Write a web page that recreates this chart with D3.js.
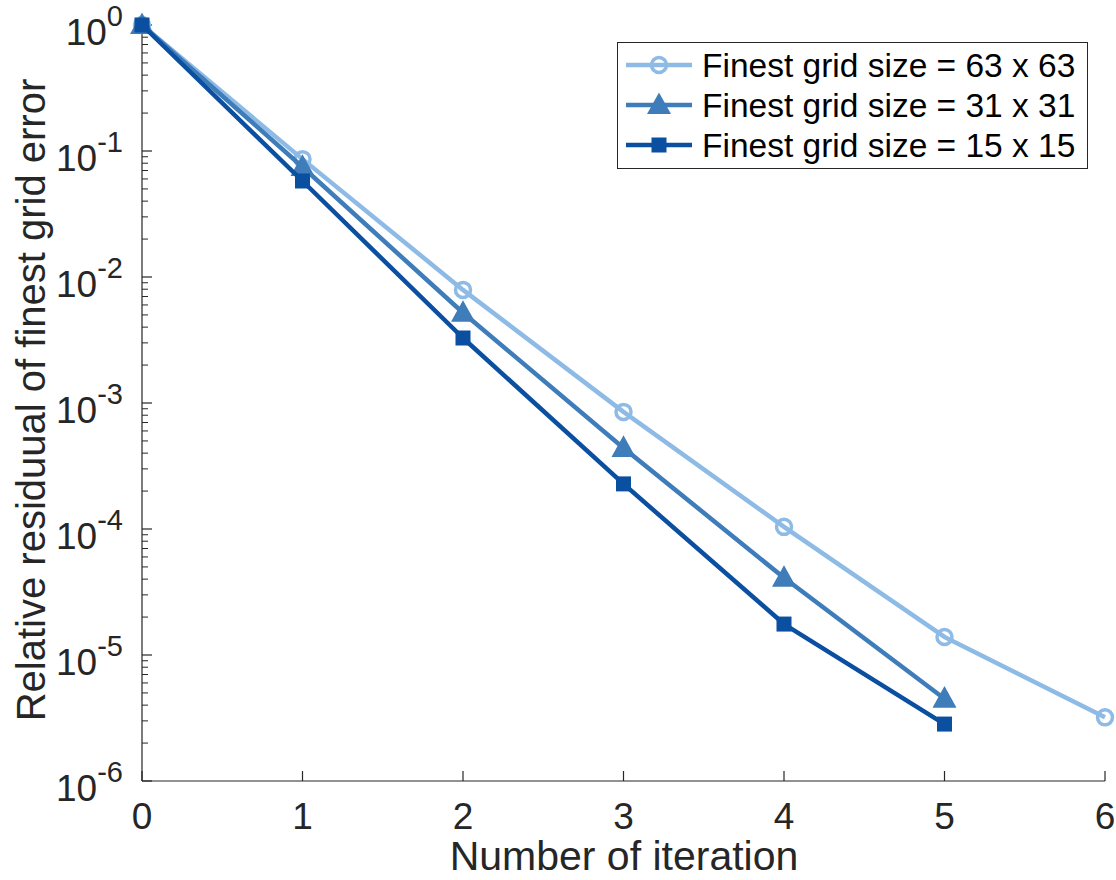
<!DOCTYPE html>
<html><head><meta charset="utf-8">
<script src="https://cdn.jsdelivr.net/npm/d3@7"></script>
<style>body{margin:0;background:#fff}svg{font-family:"Liberation Sans",Arial,sans-serif}</style>
</head><body><svg id="c" width="1116" height="880"></svg>
<script>
const iterations = [0,1,2,3,4,5,6];
const seriesNames = ["Finest grid size = 63 x 63","Finest grid size = 31 x 31","Finest grid size = 15 x 15"];
const res63 = [1, 0.0862, 0.0079, 8.5e-4, 1.04e-4, 1.39e-5, 3.2e-6];
const res31 = [1, 0.0747, 5.2e-3, 4.4e-4, 4.1e-5, 4.5e-6];
const res15 = [1, 0.0578, 3.28e-3, 2.28e-4, 1.76e-5, 2.83e-6];
const xTicks = [0,1,2,3,4,5,6];
const yExponents = [0,-1,-2,-3,-4,-5,-6];
const colors = ["#8ebbe6","#3e7cba","#0b4fa0"];
const markers = ["circle","triangle","square"];
const allSeries = [res63,res31,res15];

const svg = d3.select("#c");
const L=142,R=1105,T=25,B=781;
const x = d3.scaleLinear().domain([0,6]).range([L,R]);
const y = d3.scaleLog().domain([1e-6,1]).range([B,T]);
const axisCol="#262626";
const g = svg.append("g");

g.append("line").attr("x1",L).attr("x2",L).attr("y1",T).attr("y2",B).attr("stroke",axisCol).attr("stroke-width",1.2);
g.append("line").attr("x1",L).attr("x2",R).attr("y1",B).attr("y2",B).attr("stroke",axisCol).attr("stroke-width",1.2);
xTicks.forEach(t=>{
  g.append("line").attr("x1",x(t)).attr("x2",x(t)).attr("y1",B).attr("y2",B-10).attr("stroke",axisCol).attr("stroke-width",1.2);
  g.append("text").attr("x",x(t)).attr("y",B+48).attr("text-anchor","middle").attr("font-size",37).attr("fill",axisCol).text(t);
});
yExponents.forEach(e=>{
  const yy=y(Math.pow(10,e));
  g.append("line").attr("x1",L).attr("x2",L+10).attr("y1",yy).attr("y2",yy).attr("stroke",axisCol).attr("stroke-width",1.2);
  const t=g.append("text").attr("x",123).attr("y",yy+20).attr("text-anchor","end").attr("fill",axisCol).attr("font-size",37);
  t.append("tspan").text("10");
  t.append("tspan").attr("dy",-19).attr("font-size",29).text(e);
  if(e>-6){
    for(let m=2;m<=9;m++){
      const v=m*Math.pow(10,e-1);
      g.append("line").attr("x1",L).attr("x2",L+6).attr("y1",y(v)).attr("y2",y(v)).attr("stroke",axisCol).attr("stroke-width",1);
    }
  }
});
g.append("text").attr("x",624).attr("y",870).attr("text-anchor","middle").attr("font-size",41).attr("fill",axisCol).text("Number of iteration");
g.append("text").attr("transform","translate(45,400) rotate(-90)").attr("text-anchor","middle").attr("font-size",40).attr("fill",axisCol).text("Relative residuual of finest grid error");

function drawMarker(sel,type,col,cx,cy){
  if(type==="circle"){
    sel.append("circle").attr("cx",cx).attr("cy",cy).attr("r",7.5).attr("fill","none").attr("stroke",col).attr("stroke-width",3.5);
  } else if(type==="triangle"){
    const s=12;
    sel.append("path").attr("d",`M${cx},${cy-s*1.05}L${cx+s},${cy+s*0.75}L${cx-s},${cy+s*0.75}Z`).attr("fill",col);
  } else {
    const s=7.5;
    sel.append("rect").attr("x",cx-s).attr("y",cy-s).attr("width",2*s).attr("height",2*s).attr("fill",col);
  }
}

const line=d3.line().x((d,i)=>x(iterations[i])).y(d=>y(d));
[0,1,2].forEach(k=>{
  const data=allSeries[k];
  g.append("path").datum(data).attr("d",line).attr("fill","none").attr("stroke",colors[k]).attr("stroke-width",4.5).attr("stroke-linejoin","round");
  data.forEach((d,i)=>drawMarker(g,markers[k],colors[k],x(iterations[i]),y(d)));
});

const lg=svg.append("g");
lg.append("rect").attr("x",617.5).attr("y",42.5).attr("width",470).attr("height",126).attr("fill","#fff").attr("stroke","#262626").attr("stroke-width",1);
seriesNames.forEach((n,k)=>{
  const yy=65+k*40;
  lg.append("line").attr("x1",626).attr("x2",692).attr("y1",yy).attr("y2",yy).attr("stroke",colors[k]).attr("stroke-width",4.5);
  drawMarker(lg,markers[k],colors[k],659,yy);
  lg.append("text").attr("x",702).attr("y",yy+12).attr("font-size",33.5).attr("fill","#000").text(n);
});
</script></body></html>
